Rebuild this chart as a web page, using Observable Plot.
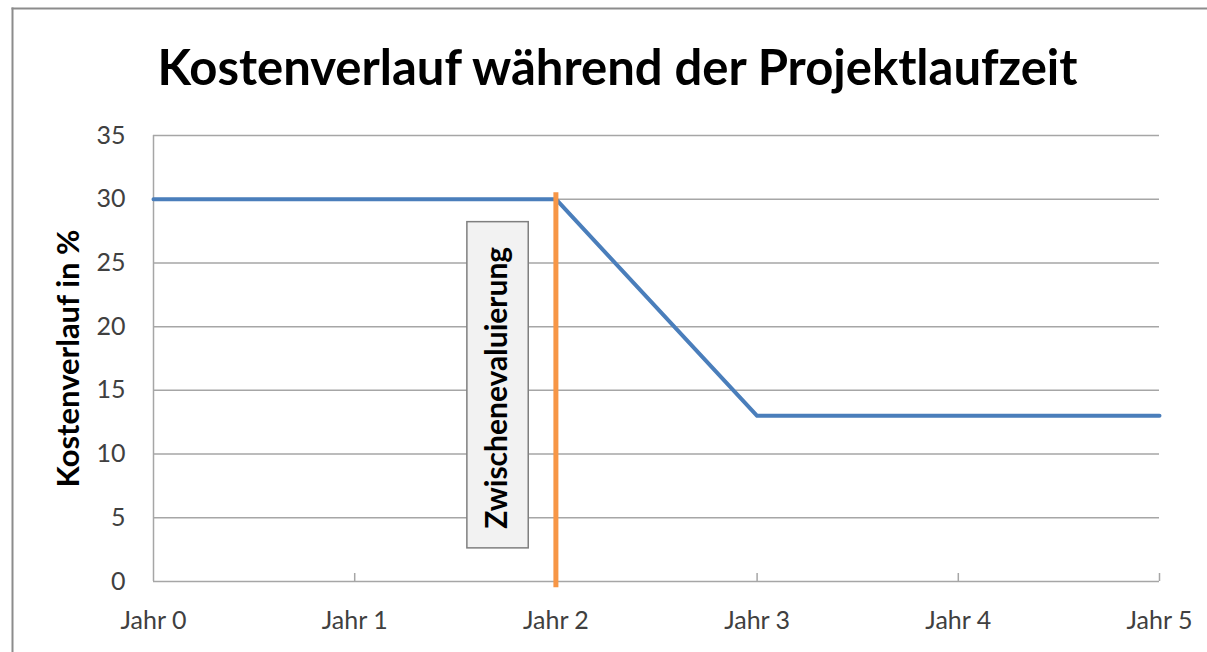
<!DOCTYPE html>
<html>
<head>
<meta charset="utf-8">
<script src="https://cdn.jsdelivr.net/npm/d3@7"></script>
<script src="https://cdn.jsdelivr.net/npm/@observablehq/plot@0.6"></script>
<style>
  html, body { margin: 0; padding: 0; background: #fff; overflow: hidden; }
  #chart svg { display: block; }
</style>
</head>
<body>
<div id="chart"></div>
<script>
// Data
const title = "Kostenverlauf während der Projektlaufzeit";
const yLabel = "Kostenverlauf in %";
const years = [0, 1, 2, 3, 4, 5];
const yearLabels = ["Jahr 0", "Jahr 1", "Jahr 2", "Jahr 3", "Jahr 4", "Jahr 5"];
const costX = [0, 2, 3, 5];
const costY = [30, 30, 13, 13];
const yTicks = [0, 5, 10, 15, 20, 25, 30, 35];
const markerX = 2;
const markerY = [-0.5, 30.5];
const noteText = "Zwischenevaluierung";
const noteBoxX = [1.56, 1.865];
const noteBoxY = [2.6, 28.2];
const noteX = 1.71;
const noteY = 15.2;

const cost = costX.map((x, i) => ({x, y: costY[i]}));
const font = "Lato, 'Open Sans', sans-serif";

const plot = Plot.plot({
  width: 1207,
  height: 652,
  marginLeft: 153,
  marginRight: 48,
  marginTop: 135,
  marginBottom: 71,
  style: {fontFamily: font, background: "#fff"},
  x: {type: "linear", domain: [0, 5]},
  y: {type: "linear", domain: [0, 35]},
  marks: [
    // outer chart-area border (left and top edges visible, the rest lies outside the picture)
    Plot.frame({anchor: "left", insetLeft: -141, insetTop: -127, insetBottom: -71, stroke: "#8c8c8c", strokeWidth: 2}),
    Plot.frame({anchor: "top", insetLeft: -141, insetRight: -48, insetTop: -127, stroke: "#8c8c8c", strokeWidth: 2}),
    Plot.ruleY(yTicks, {y: d => d, stroke: "#a6a6a6", strokeWidth: 1.5}),
    Plot.ruleX([0], {x: d => d, stroke: "#a6a6a6", strokeWidth: 1.5}),
    Plot.tickX(years.slice(1), {x: d => d, stroke: "#a6a6a6", strokeWidth: 1.5, insetTop: 438}),
    Plot.axisY(yTicks, {tickSize: 0, tickPadding: 28, fontSize: 25, fill: "#404040", label: null}),
    Plot.axisX(years, {tickSize: 0, tickPadding: 30, fontSize: 25, fill: "#404040", label: null,
      tickFormat: d => yearLabels[years.indexOf(d)]}),
    Plot.rect([0], {x1: () => noteBoxX[0], x2: () => noteBoxX[1], y1: () => noteBoxY[0], y2: () => noteBoxY[1],
      fill: "#f2f2f2", stroke: "#7f7f7f", strokeWidth: 1.5}),
    Plot.text([noteText], {x: () => noteX, y: () => noteY, text: d => d, rotate: -90,
      fontSize: 30, fontWeight: "bold", fill: "#000"}),
    Plot.line(cost, {x: "x", y: "y", stroke: "#4a7ebb", strokeWidth: 4}),
    Plot.ruleX([markerX], {x: d => d, y1: () => markerY[0], y2: () => markerY[1], stroke: "#f79646", strokeWidth: 5}),
    Plot.text([yLabel], {frameAnchor: "left", textAnchor: "middle", dx: -84, rotate: -90, text: d => d,
      fontSize: 31, fontWeight: "bold", fill: "#000"}),
    Plot.text([title], {frameAnchor: "top", dx: -39, dy: -85, text: d => d,
      fontSize: 49, fontWeight: "bold", fill: "#000"})
  ]
});
document.getElementById("chart").appendChild(plot);
</script>
</body>
</html>
